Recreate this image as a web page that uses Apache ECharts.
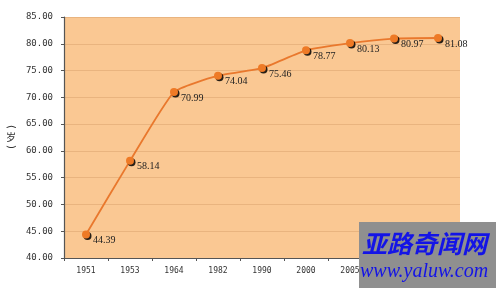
<!DOCTYPE html>
<html><head><meta charset="utf-8">
<script src="https://cdn.jsdelivr.net/npm/echarts@6/dist/echarts.min.js"></script>
<style>html,body{margin:0;padding:0;background:#fff}#c{width:500px;height:292px}</style>
</head><body><div id="c"></div>
<script>
var categories = ['1951','1953','1964','1982','1990','2000','2005','2010','2015'];
var values = [44.39, 58.14, 70.99, 74.04, 75.46, 78.77, 80.13, 80.97, 81.08];
var yMin = 40, yMax = 85, yStep = 5;
var yName = '岁';

var chart = echarts.init(document.getElementById('c'));
chart.setOption({
  animation: false,
  backgroundColor: '#ffffff',
  grid: { left: 64, right: 40, top: 17, bottom: 34, show: true, backgroundColor: '#FAC893', borderWidth: 0 },
  xAxis: {
    type: 'category', data: categories, boundaryGap: true,
    axisLine: { lineStyle: { color: '#555', width: 1.2 } },
    axisTick: { show: true, length: 3, lineStyle: { color: '#555' } },
    axisLabel: { color: '#333', fontSize: 8, fontFamily: 'DejaVu Sans Mono', margin: 9 }
  },
  yAxis: {
    type: 'value', min: yMin, max: yMax, interval: yStep,
    axisLine: { show: true, lineStyle: { color: '#555', width: 1.2 } },
    axisTick: { show: true, length: 3, lineStyle: { color: '#555' } },
    splitLine: { lineStyle: { color: '#E9B47F', width: 1 } },
    axisLabel: { color: '#333', fontSize: 9, fontFamily: 'DejaVu Sans Mono', margin: 11,
      formatter: function (v) { return v.toFixed(2); } }
  },
  graphic: [
    { type: 'text', x: 11, y: 127, rotation: -Math.PI / 2, style: { text: '(', fill: '#333', fontSize: 10, align: 'center', verticalAlign: 'middle', fontFamily: 'DejaVu Sans' } },
    { type: 'text', x: 11, y: 137, style: { text: yName, fill: '#333', fontSize: 10, align: 'center', verticalAlign: 'middle', fontFamily: 'Noto Sans CJK SC' } },
    { type: 'text', x: 11, y: 147, rotation: -Math.PI / 2, style: { text: ')', fill: '#333', fontSize: 10, align: 'center', verticalAlign: 'middle', fontFamily: 'DejaVu Sans' } },
    { type: 'rect', shape: { x: 359, y: 222, width: 137, height: 66 }, style: { fill: '#8F8F8F' }, z: 100 },
    { type: 'text', x: 362, y: 243, z: 101, style: { text: '亚路奇闻网', fill: '#1414E6', fontSize: 25, fontWeight: 'bold', fontStyle: 'italic', verticalAlign: 'middle', fontFamily: 'Noto Sans CJK SC' } },
    { type: 'text', x: 360, y: 272, z: 101, style: { text: 'www.yaluw.com', fill: '#1414E6', fontSize: 20, fontStyle: 'italic', verticalAlign: 'middle', fontFamily: 'Liberation Serif' } }
  ],
  series: [{
    type: 'line', data: values, smooth: 0.15,
    lineStyle: { color: '#E9782D', width: 1.8 },
    symbol: 'circle', symbolSize: 8,
    itemStyle: { color: '#EE7A26', shadowColor: 'rgba(0,0,0,0.85)', shadowBlur: 0, shadowOffsetX: 1.5, shadowOffsetY: 1.5 },
    label: { show: true, position: 'right', distance: 3, offset: [0, 6], color: '#222', fontSize: 10, fontFamily: 'Liberation Serif',
      formatter: function (p) { return p.value.toFixed(2); } }
  }]
});
</script></body></html>
